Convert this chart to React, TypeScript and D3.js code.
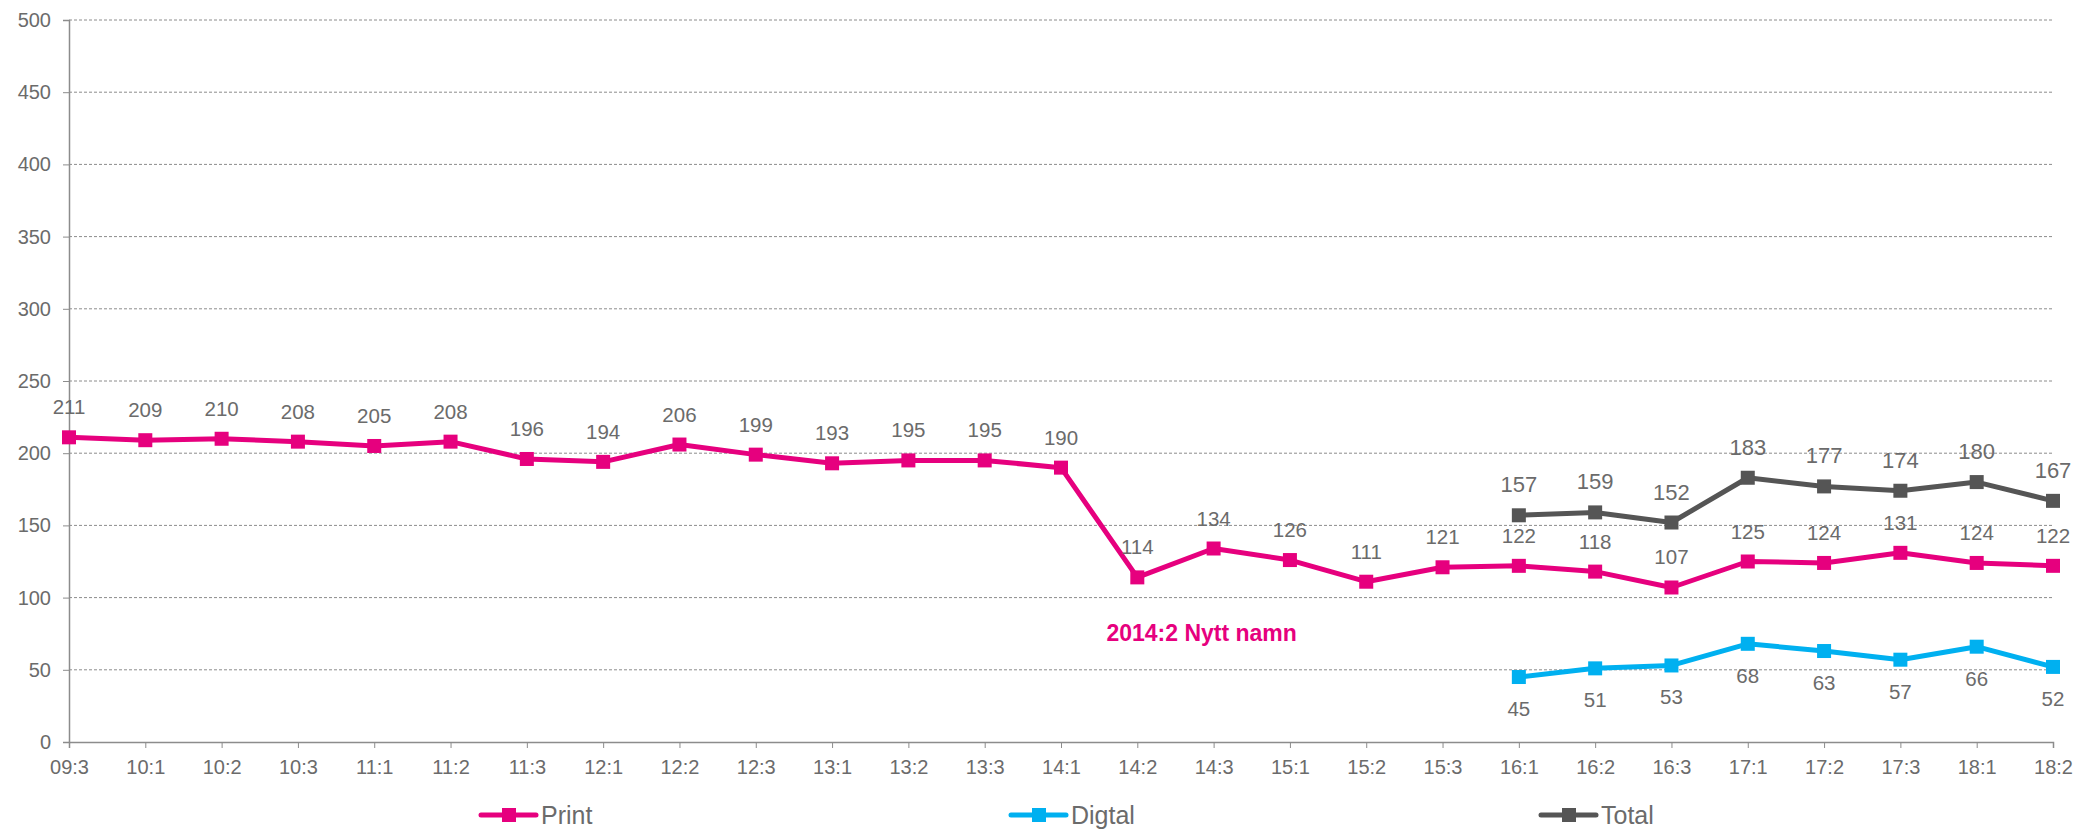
import { useEffect, useRef } from "react";
import {
  select,
  scalePoint,
  scaleLinear,
  axisLeft,
  axisBottom,
  line as d3Line,
} from "d3";

const categories = [
  "09:3", "10:1", "10:2", "10:3", "11:1", "11:2", "11:3", "12:1", "12:2",
  "12:3", "13:1", "13:2", "13:3", "14:1", "14:2", "14:3", "15:1", "15:2",
  "15:3", "16:1", "16:2", "16:3", "17:1", "17:2", "17:3", "18:1", "18:2",
];

const printValues = [
  211, 209, 210, 208, 205, 208, 196, 194, 206, 199, 193, 195, 195, 190,
  114, 134, 126, 111, 121, 122, 118, 107, 125, 124, 131, 124, 122,
];

// digital and total start at 16:1
const laterCategories = ["16:1", "16:2", "16:3", "17:1", "17:2", "17:3", "18:1", "18:2"];
const digitalValues = [45, 51, 53, 68, 63, 57, 66, 52];
const totalValues = [157, 159, 152, 183, 177, 174, 180, 167];

const yTicks = [0, 50, 100, 150, 200, 250, 300, 350, 400, 450, 500];

const annotation = { category: "14:3", value: 75, text: "2014:2 Nytt namn" };

const W = 2077;
const H = 830;
const FONT = "'Liberation Sans', Arial, sans-serif";
const TEXT = "#6b6b6b";
const PRINT = "#E6007E";
const DIGITAL = "#00B0F0";
const TOTAL = "#555555";

export default function App() {
  const ref = useRef<SVGSVGElement | null>(null);

  useEffect(() => {
    if (!ref.current) return;
    const svg = select(ref.current);
    svg.selectAll("*").remove();

    const x = scalePoint<string>().domain(categories).range([69, 2053]).padding(0);
    const y = scaleLinear().domain([0, 500]).range([742, 20]);

    // gridlines
    svg
      .append("g")
      .selectAll("line")
      .data(yTicks.filter((t) => t > 0))
      .join("line")
      .attr("x1", 69)
      .attr("x2", 2053)
      .attr("y1", (d) => y(d))
      .attr("y2", (d) => y(d))
      .attr("stroke", "#8c8c8c")
      .attr("stroke-width", 1)
      .attr("stroke-dasharray", "3,2");

    // y axis
    const ya = svg
      .append("g")
      .attr("transform", "translate(69,0)")
      .call(axisLeft(y).tickValues(yTicks).tickSize(6).tickPadding(12));
    ya.select(".domain").attr("stroke", "#8c8c8c").attr("stroke-width", 1.5);
    ya.selectAll(".tick line").attr("stroke", "#8c8c8c");
    ya.selectAll(".tick text")
      .attr("fill", TEXT)
      .style("font-family", FONT)
      .style("font-size", "20px");

    // x axis
    const xa = svg
      .append("g")
      .attr("transform", "translate(0,742)")
      .call(axisBottom(x).tickSize(6).tickPadding(12));
    xa.select(".domain").attr("stroke", "#8c8c8c").attr("stroke-width", 1.5);
    xa.selectAll(".tick line").attr("stroke", "#8c8c8c");
    xa.selectAll(".tick text")
      .attr("fill", TEXT)
      .style("font-family", FONT)
      .style("font-size", "20px");

    const series = [
      { name: "Print", cats: categories, values: printValues, color: PRINT, below: false, size: 20.5 },
      { name: "Digtal", cats: laterCategories, values: digitalValues, color: DIGITAL, below: true, size: 20.5 },
      { name: "Total", cats: laterCategories, values: totalValues, color: TOTAL, below: false, size: 22 },
    ];

    const lineGen = d3Line<[string, number]>()
      .x((d) => x(d[0])!)
      .y((d) => y(d[1]));

    series.forEach((s) => {
      const pts: [string, number][] = s.cats.map((c, i) => [c, s.values[i]]);
      const g = svg.append("g");
      g.append("path")
        .attr("d", lineGen(pts)!)
        .attr("fill", "none")
        .attr("stroke", s.color)
        .attr("stroke-width", 5)
        .attr("stroke-linejoin", "round");
      g.selectAll("rect")
        .data(pts)
        .join("rect")
        .attr("x", (d) => x(d[0])! - 7)
        .attr("y", (d) => y(d[1]) - 7)
        .attr("width", 14)
        .attr("height", 14)
        .attr("fill", s.color);
      g.selectAll("text")
        .data(pts)
        .join("text")
        .attr("x", (d) => x(d[0])!)
        .attr("y", (d) => (s.below ? y(d[1]) + 39 : y(d[1]) - 23))
        .attr("text-anchor", "middle")
        .attr("fill", TEXT)
        .style("font-family", FONT)
        .style("font-size", s.size + "px")
        .text((d) => d[1]);
    });

    // annotation
    svg
      .append("text")
      .attr("x", x(annotation.category)! - 12)
      .attr("y", y(annotation.value) + 7)
      .attr("text-anchor", "middle")
      .attr("fill", PRINT)
      .style("font-family", FONT)
      .style("font-size", "23px")
      .style("font-weight", "bold")
      .text(annotation.text);

    // legend
    const legend = svg
      .append("g")
      .selectAll("g")
      .data(series)
      .join("g")
      .attr("transform", (_, i) => `translate(${481 + i * 530},815)`);
    legend
      .append("line")
      .attr("x1", 0)
      .attr("x2", 55)
      .attr("stroke", (d) => d.color)
      .attr("stroke-width", 5)
      .attr("stroke-linecap", "round");
    legend
      .append("rect")
      .attr("x", 21)
      .attr("y", -7)
      .attr("width", 14)
      .attr("height", 14)
      .attr("fill", (d) => d.color);
    legend
      .append("text")
      .attr("x", 60)
      .attr("y", 9)
      .attr("fill", TEXT)
      .style("font-family", FONT)
      .style("font-size", "25px")
      .text((d) => d.name);
  }, []);

  return (
    <svg
      ref={ref}
      width={W}
      height={H}
      style={{ position: "absolute", left: 0, top: 0, background: "#fff" }}
    />
  );
}
